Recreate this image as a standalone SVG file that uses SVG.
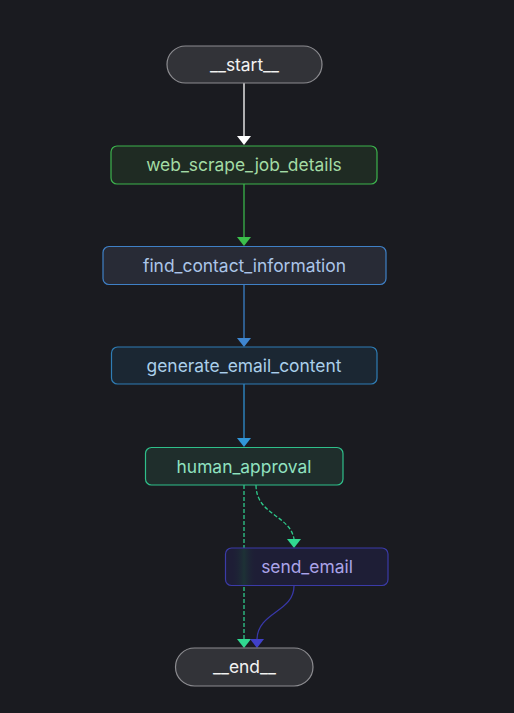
<svg xmlns="http://www.w3.org/2000/svg" width="514" height="713" viewBox="0 0 514 713">
<style>
text{font-family:Inter,"Liberation Sans",sans-serif;font-size:17.4px;text-anchor:middle}
.edge{fill:none;stroke-width:1.3}
.dash{stroke-dasharray:4 2}
</style>
<defs>
<linearGradient id="band" x1="0" y1="0" x2="1" y2="0">
<stop offset="0" stop-color="#1e1e36" stop-opacity="0"/>
<stop offset="0.5" stop-color="#1d3236"/>
<stop offset="1" stop-color="#1e1e36" stop-opacity="0"/>
</linearGradient>
</defs>
<rect width="514" height="713" fill="#1a1b20"/>
<g id="connectors">
<line class="edge" x1="244" y1="83" x2="244" y2="136" stroke="#ffffff"/>
<path d="M237,136 L251,136 L244,145 Z" fill="#ffffff"/>
<line class="edge" x1="244" y1="184" x2="244" y2="237" stroke="#39b54a"/>
<path d="M237,237 L251,237 L244,246 Z" fill="#3cc04c"/>
<line class="edge" x1="244" y1="285" x2="244" y2="338" stroke="#3a80c8"/>
<path d="M237,338 L251,338 L244,347 Z" fill="#3f86d0"/>
<line class="edge" x1="244" y1="384" x2="244" y2="438" stroke="#2f8fd0"/>
<path d="M237,438 L251,438 L244,447 Z" fill="#3196d8"/>
<line class="edge dash" x1="244" y1="485" x2="244" y2="639" stroke="#2ec98a"/>
<path d="M237,639 L251,639 L244,648 Z" fill="#30d890"/>
<path class="edge dash" d="M256,485 C256,515 290,515 294,539" stroke="#2ec98a"/>
<path d="M287,539 L301,539 L294,548 Z" fill="#30d890"/>
<path class="edge" d="M294,586 C294,612 258,612 257,639" stroke="#3838a8"/>
<path d="M250,639 L264,639 L257,648 Z" fill="#4040c8"/>
</g>
<g id="start">
<rect x="167" y="46" width="155" height="37" rx="18.5" fill="#323338" stroke="#8c8c90" stroke-width="1.2"/>
<text x="244.5" y="71" fill="#f2f2f2">__start__</text>
</g>
<g id="web_scrape_job_details">
<rect x="111" y="146" width="266" height="38" rx="6" fill="#1f2b23" stroke="#3cb34d" stroke-width="1.2"/>
<text x="244" y="171" fill="#a3dba4">web_scrape_job_details</text>
</g>
<g id="find_contact_information">
<rect x="103" y="246.5" width="283" height="38" rx="6" fill="#282b36" stroke="#3f80c6" stroke-width="1.2"/>
<text x="244.5" y="271.5" fill="#abc5e8">find_contact_information</text>
</g>
<g id="generate_email_content">
<rect x="111.5" y="347" width="265.5" height="37" rx="6" fill="#1b2733" stroke="#2f7db5" stroke-width="1.2"/>
<text x="244" y="371.5" fill="#aacfea">generate_email_content</text>
</g>
<g id="human_approval">
<rect x="145.5" y="447.5" width="197.5" height="37.5" rx="6" fill="#1f2e2c" stroke="#2fbf8a" stroke-width="1.2"/>
<text x="244" y="472.5" fill="#90e2c0">human_approval</text>
</g>
<g id="send_email">
<rect x="225.5" y="548" width="162.5" height="37.5" rx="6" fill="#1e1e36" stroke="#3b3ba8" stroke-width="1.2"/>
<rect x="231" y="549" width="26" height="36" fill="url(#band)"/>
<text x="307" y="573" fill="#aba4e8">send_email</text>
</g>
<g id="end">
<rect x="175.5" y="648" width="137.5" height="38" rx="19" fill="#323338" stroke="#8c8c90" stroke-width="1.2"/>
<text x="244.5" y="673" fill="#f2f2f2">__end__</text>
</g>
</svg>
